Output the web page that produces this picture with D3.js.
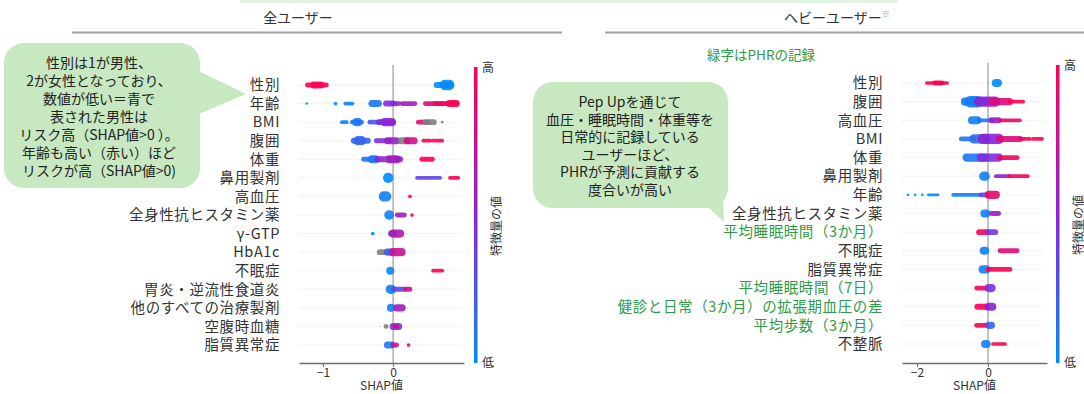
<!DOCTYPE html>
<html>
<head>
<meta charset="utf-8">
<script src="https://cdn.jsdelivr.net/npm/d3@7"></script>
<style>
  html, body { margin: 0; padding: 0; background: #fff; }
  svg { display: block; font-family: "Noto Sans CJK JP", "Noto Sans", sans-serif; }
</style>
</head>
<body>
<svg id="chart" width="1084" height="394"></svg>
<script>
// ---- All users: features ordered by importance ----
const allFeatures = ["性別", "年齢", "BMI", "腹囲", "体重", "鼻用製剤", "高血圧",
  "全身性抗ヒスタミン薬", "γ-GTP", "HbA1c", "不眠症", "胃炎・逆流性食道炎",
  "他のすべての治療製剤", "空腹時血糖", "脂質異常症"];

// Swarm clusters per feature: [SHAP from, SHAP to, feature value (0 low – 1 high, null = missing), stacked points]
const allSwarm = [
  [[-1.22, -0.95, 1, 3], [-1.13, -1.03, 1, 5], [0.62, 0.82, 0, 4], [0.74, 0.80, 0, 8]],
  [[-1.23, -1.23, 0, 1], [-0.82, -0.82, 0, 2], [-0.68, -0.58, 0.05, 2], [-0.30, -0.21, 0.1, 5],
   [-0.10, 0.0, 0.45, 4], [0.0, 0.08, 0.5, 3], [0.13, 0.31, 0.6, 3], [0.46, 0.72, 0.85, 3],
   [0.60, 0.90, 0.95, 3], [0.80, 0.90, 1, 5]],
  [[-0.73, -0.66, 0.05, 2], [-0.58, -0.45, 0.1, 3], [-0.52, -0.50, 0.1, 6], [-0.33, -0.15, 0.25, 3],
   [-0.20, 0.0, 0.45, 4], [-0.12, -0.02, 0.5, 6], [0.36, 0.50, 0.9, 3], [0.46, 0.58, null, 4],
   [0.70, 0.70, null, 1]],
  [[-0.56, -0.36, 0.15, 4], [-0.50, -0.45, 0.2, 7], [-0.24, -0.05, 0.45, 3], [-0.08, 0.05, 0.55, 5],
   [0.12, 0.20, null, 5], [0.20, 0.30, 0.8, 5], [0.43, 0.53, 1, 2], [0.57, 0.70, 1, 2]],
  [[-0.42, -0.22, 0.1, 3], [-0.30, -0.25, 0.1, 6], [-0.22, 0.10, 0.5, 4], [-0.08, -0.02, null, 4],
   [-0.05, 0.05, 0.6, 6], [0.41, 0.56, 1, 3]],
  [[-0.07, -0.07, 0, 8], [0.34, 0.67, 0.35, 2], [0.81, 0.93, 1, 2]],
  [[-0.13, -0.10, 0.05, 8], [0.24, 0.24, 1, 2]],
  [[-0.06, -0.05, 0.05, 7], [0.06, 0.16, 0.6, 3], [0.27, 0.27, 1, 2]],
  [[-0.29, -0.29, 0, 2], [-0.03, 0.02, 0.2, 4], [0.0, 0.10, 0.65, 6]],
  [[-0.19, -0.10, null, 4], [-0.08, -0.02, 0.2, 5], [0.0, 0.12, 0.75, 6]],
  [[-0.04, -0.04, 0.02, 6], [0.57, 0.70, 1, 2]],
  [[-0.04, -0.02, 0.05, 7], [0.0, 0.17, 0.35, 3], [0.18, 0.24, 0.8, 3]],
  [[-0.03, -0.03, 0.05, 6], [0.05, 0.13, 0.6, 5]],
  [[-0.10, -0.10, null, 3], [0.0, 0.08, 0.4, 5], [0.03, 0.05, 0.8, 3]],
  [[-0.08, -0.02, 0.1, 5], [0.0, 0.05, 0.8, 3], [0.22, 0.22, 1, 2]]
];
const allTicks = [-1, 0];

// ---- Heavy users ----
const heavyFeatures = ["性別", "腹囲", "高血圧", "BMI", "体重", "鼻用製剤", "年齢",
  "全身性抗ヒスタミン薬", "平均睡眠時間（3か月）", "不眠症", "脂質異常症",
  "平均睡眠時間（7日）", "健診と日常（3か月）の拡張期血圧の差", "平均歩数（3か月）", "不整脈"];
// Features recorded through PHR
const phrFeatures = ["平均睡眠時間（3か月）", "平均睡眠時間（7日）",
  "健診と日常（3か月）の拡張期血圧の差", "平均歩数（3か月）"];

const heavySwarm = [
  [[-1.72, -1.15, 1, 2], [-1.50, -1.30, 1, 3], [0.22, 0.28, 0, 6]],
  [[-0.65, -0.10, 0.1, 6], [-0.50, -0.30, 0.05, 9], [-0.25, 0.20, 0.5, 8], [0.10, 0.60, 0.85, 5], [0.60, 0.99, 1, 2]],
  [[-0.45, -0.30, 0.05, 6], [-0.25, 0.15, 0.15, 2], [0.10, 0.30, 0.55, 4], [0.34, 0.90, 0.9, 2]],
  [[-0.75, -0.40, 0.1, 3], [-0.40, -0.05, 0.15, 7], [-0.15, 0.30, 0.5, 8], [0.30, 0.90, 0.85, 4],
   [0.90, 1.18, 1, 2], [1.27, 1.52, 1, 2]],
  [[-0.60, -0.10, 0.1, 6], [-0.20, 0.30, 0.45, 6], [0.30, 0.82, 0.95, 3]],
  [[-0.12, -0.08, 0.05, 7], [0.22, 0.60, 0.5, 2], [0.60, 1.12, 0.95, 2]],
  [[-2.25, -2.25, 0, 1], [-2.05, -2.05, 0, 1], [-1.85, -1.85, 0, 1], [-1.68, -1.40, 0, 1],
   [-0.98, -0.20, 0.05, 2], [-0.20, 0.0, 0.3, 3], [0.02, 0.22, 0.9, 6]],
  [[-0.10, -0.05, 0.05, 6], [0.10, 0.30, 0.6, 3]],
  [[-0.25, -0.03, 1, 4], [0.0, 0.20, 0.4, 4]],
  [[-0.12, -0.08, 0.05, 6], [0.34, 0.82, 0.85, 3]],
  [[-0.15, -0.05, 0.05, 6], [0.0, 0.62, 1, 3]],
  [[-0.32, -0.03, 1, 3], [0.02, 0.10, 0.4, 6]],
  [[-0.30, -0.03, 1, 4], [0.02, 0.12, 0.5, 6]],
  [[-0.32, -0.03, 1, 3], [0.02, 0.10, 0.2, 5]],
  [[-0.08, -0.04, 0.05, 6], [0.14, 0.48, 1, 2]]
];
const heavyTicks = [-2, 0];

const svg = d3.select("#chart");
const defs = svg.append("defs");

// SHAP-style low→high colour map
const featureColor = d3.scaleLinear().domain([0, 0.5, 1])
  .range(["#008bfb", "#8c22d6", "#ff0052"]).interpolate(d3.interpolateRgb);
const stackHeight = d3.scaleLinear().domain([1, 9]).range([2.6, 11.5]);

const grad = defs.append("linearGradient").attr("id", "cbar")
  .attr("x1", 0).attr("y1", 1).attr("x2", 0).attr("y2", 0);
[0, 0.25, 0.5, 0.75, 1].forEach(t =>
  grad.append("stop").attr("offset", t).attr("stop-color", featureColor(t)));

// Thin mint band along the top
svg.append("rect").attr("x", 240).attr("y", 0).attr("width", 658).attr("height", 3)
  .attr("fill", "#e2f3e5");

// Section headers
svg.append("text").attr("x", 298).attr("y", 23).attr("text-anchor", "middle")
  .attr("font-size", 14).attr("fill", "#333").text("全ユーザー");
svg.append("line").attr("x1", 72).attr("x2", 562).attr("y1", 32.5).attr("y2", 32.5)
  .attr("stroke", "#a0a0a0").attr("stroke-width", 2);
const hh = svg.append("text").attr("x", 784).attr("y", 23).attr("font-size", 14).attr("fill", "#333");
hh.append("tspan").text("ヘビーユーザー");
hh.append("tspan").attr("font-size", 8).attr("dy", -6).attr("fill", "#888").text("※");
svg.append("line").attr("x1", 605).attr("x2", 1084).attr("y1", 32.5).attr("y2", 32.5)
  .attr("stroke", "#a0a0a0").attr("stroke-width", 2);

svg.append("text").attr("x", 761).attr("y", 60).attr("text-anchor", "middle")
  .attr("font-size", 13.5).attr("fill", "#2f9a45").text("緑字はPHRの記録");

function drawPanel(cfg) {
  const g = svg.append("g");
  const x = d3.scaleLinear().domain(cfg.domain).range([cfg.x0, cfg.x1]);
  const y = d3.scalePoint().domain(cfg.features).range([cfg.yTop, cfg.yBottom]);

  // dotted row guides
  g.selectAll("line.grid").data(cfg.features).join("line")
    .attr("x1", cfg.x0).attr("x2", cfg.x1 - 2)
    .attr("y1", d => y(d)).attr("y2", d => y(d))
    .attr("stroke", "#d8d8d8").attr("stroke-width", 0.8).attr("stroke-dasharray", "1.5,2.5");

  // zero line
  g.append("line").attr("x1", x(0)).attr("x2", x(0))
    .attr("y1", cfg.yTop - 20).attr("y2", cfg.axisY)
    .attr("stroke", "#9a9a9a").attr("stroke-width", 1.2);

  // swarm clusters
  cfg.features.forEach((f, i) => {
    const row = g.append("g").attr("transform", `translate(0,${y(f)})`);
    row.selectAll("rect").data(cfg.swarm[i]).join("rect")
      .attr("x", d => x(d[0]) - stackHeight(d[3]) / 2)
      .attr("width", d => x(d[1]) - x(d[0]) + stackHeight(d[3]))
      .attr("y", d => -stackHeight(d[3]) / 2)
      .attr("height", d => stackHeight(d[3]))
      .attr("rx", d => Math.min(stackHeight(d[3]) / 2, 2.5 + stackHeight(d[3]) / 4))
      .attr("fill", d => d[2] === null ? "#7f7f7f" : featureColor(d[2]))
      .attr("opacity", 0.9);
  });

  // feature labels
  g.selectAll("text.lab").data(cfg.features).join("text")
    .attr("x", cfg.labelX).attr("y", d => y(d)).attr("dy", "0.36em")
    .attr("text-anchor", "end").attr("font-size", 14.5).attr("letter-spacing", 0.6)
    .attr("fill", d => cfg.green.includes(d) ? "#2f9a45" : "#333")
    .text(d => d);

  // x axis
  const ax = g.append("g").attr("transform", `translate(0,${cfg.axisY})`)
    .call(d3.axisBottom(x).tickValues(cfg.ticks).tickSize(4).tickPadding(1).tickSizeOuter(0)
      .tickFormat(d3.format("d")));
  ax.select(".domain").attr("stroke", "#6e6e6e").attr("stroke-width", 1.5);
  ax.selectAll(".tick line").attr("stroke", "#6e6e6e");
  ax.selectAll(".tick text").attr("font-size", 12).attr("fill", "#333")
    .attr("font-family", "'Noto Sans CJK JP', sans-serif");
  g.append("text").attr("x", (cfg.x0 + cfg.x1) / 2).attr("y", cfg.axisY + 27)
    .attr("text-anchor", "middle").attr("font-size", 12).attr("fill", "#333").text("SHAP値");

  // colour bar
  g.append("rect").attr("x", cfg.cbX).attr("y", cfg.yTop - 18).attr("width", 3.5)
    .attr("height", cfg.axisY - cfg.yTop + 18).attr("fill", "url(#cbar)");
  g.append("text").attr("x", cfg.cbX + 8).attr("y", cfg.yTop - 13).attr("font-size", 12)
    .attr("fill", "#333").text("高");
  g.append("text").attr("x", cfg.cbX + 8).attr("y", cfg.axisY + 4).attr("font-size", 12)
    .attr("fill", "#333").text("低");
  g.append("text").attr("transform", `translate(${cfg.cbX + 27},${(cfg.yTop + cfg.axisY) / 2 + 2}) rotate(-90)`)
    .attr("text-anchor", "middle").attr("font-size", 12).attr("fill", "#333").text("特徴量の値");
}

drawPanel({
  features: allFeatures, swarm: allSwarm, ticks: allTicks, green: [],
  domain: [-1.34, 1.01], x0: 299, x1: 464, yTop: 85, yBottom: 345, axisY: 363,
  labelX: 280, cbX: 474
});
drawPanel({
  features: heavyFeatures, swarm: heavySwarm, ticks: heavyTicks, green: phrFeatures,
  domain: [-2.42, 1.66], x0: 902, x1: 1047, yTop: 83, yBottom: 344, axisY: 363,
  labelX: 883, cbX: 1056
});

// Speech bubbles
function bubble(box, tail, lines, cx, y0, lh) {
  const g = svg.append("g");
  g.append("polygon").attr("points", tail.map(p => p.join(",")).join(" ")).attr("fill", "#c7e8c0");
  g.append("rect").attr("x", box[0]).attr("y", box[1]).attr("width", box[2]).attr("height", box[3])
    .attr("rx", 20).attr("fill", "#c7e8c0");
  g.selectAll("text").data(lines).join("text")
    .attr("x", cx).attr("y", (d, i) => y0 + i * lh).attr("dy", "0.36em")
    .attr("text-anchor", "middle").attr("font-size", 14).attr("fill", "#222").text(d => d);
}

const noteAll = ["性別は1が男性、", "2が女性となっており、", "数値が低い＝青で", "表された男性は",
  "リスク高（SHAP値>0 ）。", "年齢も高い（赤い）ほど", "リスクが高（SHAP値>0)"];
const noteHeavy = ["Pep Upを通じて", "血圧・睡眠時間・体重等を", "日常的に記録している",
  "ユーザーほど、", "PHRが予測に貢献する", "度合いが高い"];

bubble([4, 43, 196, 145], [[180, 62], [246, 94], [180, 122]], noteAll, 99, 63, 18);
bubble([533, 82, 195, 126], [[690, 190], [724, 222], [722, 178]], noteHeavy, 630, 102, 17.6);
</script>
</body>
</html>
